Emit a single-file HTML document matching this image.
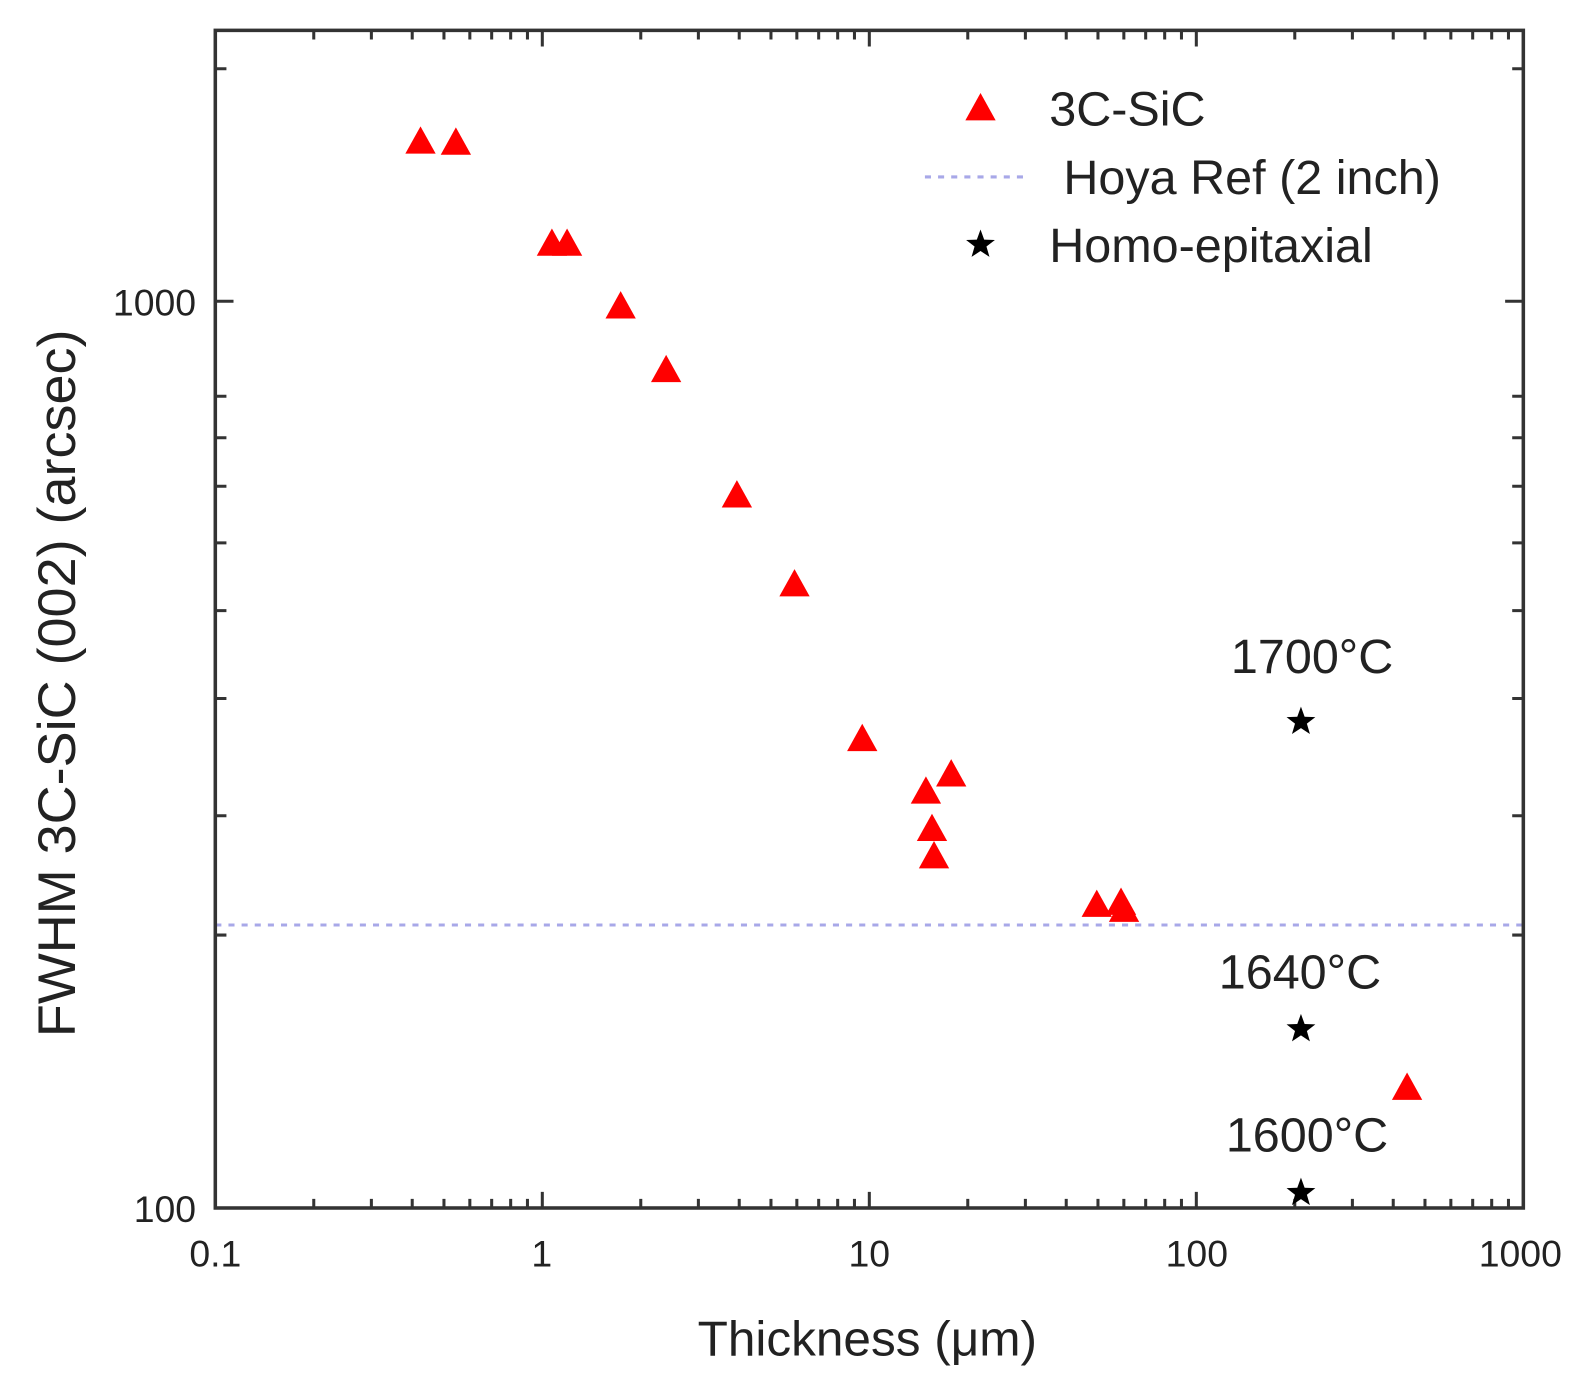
<!DOCTYPE html>
<html><head><meta charset="utf-8"><style>
html,body{margin:0;padding:0;background:#fff;}
svg{display:block;}
text{font-family:"Liberation Sans",Arial,sans-serif;fill:#222;}
</style></head><body>
<svg width="1586" height="1392" viewBox="0 0 1569 1377" xmlns="http://www.w3.org/2000/svg">
<defs>
<polygon id="tri" points="0,-15 15,12 -15,12" fill="#ff0000"/>
<polygon id="star" transform="scale(1.25)" points="0,-12 2.9,-4 11.4,-3.7 4.7,1.5 7.1,9.7 0,5 -7.1,9.7 -4.7,1.5 -11.4,-3.7 -2.9,-4" fill="#000"/>
</defs>
<line x1="213" y1="915" x2="1507" y2="915" stroke="#a8a8e8" stroke-width="3" stroke-dasharray="6,7"/>
<g stroke="#333" stroke-width="3">
<path d="M310.4,1195v-9M367.4,1195v-9M407.8,1195v-9M439.2,1195v-9M464.8,1195v-9M486.4,1195v-9M505.2,1195v-9M521.8,1195v-9M536.5,1195v-16
M633.9,1195v-9M690.9,1195v-9M731.3,1195v-9M762.7,1195v-9M788.3,1195v-9M809.9,1195v-9M828.7,1195v-9M845.3,1195v-9M860,1195v-16
M957.4,1195v-9M1014.4,1195v-9M1054.8,1195v-9M1086.2,1195v-9M1111.8,1195v-9M1133.4,1195v-9M1152.2,1195v-9M1168.8,1195v-9M1183.5,1195v-16
M1280.9,1195v-9M1337.9,1195v-9M1378.3,1195v-9M1409.7,1195v-9M1435.3,1195v-9M1456.9,1195v-9M1475.7,1195v-9M1492.3,1195v-9
M310.4,30v9M367.4,30v9M407.8,30v9M439.2,30v9M464.8,30v9M486.4,30v9M505.2,30v9M521.8,30v9M536.5,30v16
M633.9,30v9M690.9,30v9M731.3,30v9M762.7,30v9M788.3,30v9M809.9,30v9M828.7,30v9M845.3,30v9M860,30v16
M957.4,30v9M1014.4,30v9M1054.8,30v9M1086.2,30v9M1111.8,30v9M1133.4,30v9M1152.2,30v9M1168.8,30v9M1183.5,30v16
M1280.9,30v9M1337.9,30v9M1378.3,30v9M1409.7,30v9M1435.3,30v9M1456.9,30v9M1475.7,30v9M1492.3,30v9"/>
<path d="M213,925h11M213,807h11M213,691h11M213,604h11M213,537h11M213,481h11M213,433h11M213,392h11M213,298h18M213,68h11
M1507,925h-11M1507,807h-11M1507,691h-11M1507,604h-11M1507,537h-11M1507,481h-11M1507,433h-11M1507,392h-11M1507,298h-18M1507,68h-11"/>
</g>
<rect x="213" y="30" width="1294" height="1165" fill="none" stroke="#333" stroke-width="3.5"/>
<g font-size="37" text-anchor="middle">
<text x="213" y="1253">0.1</text>
<text x="536" y="1253">1</text>
<text x="860" y="1253">10</text>
<text x="1184" y="1253">100</text>
<text x="1504" y="1253">1000</text>
<text x="194" y="1209" text-anchor="end">100</text>
<text x="194" y="312" text-anchor="end">1000</text>
</g>
<text x="858" y="1341" font-size="49" text-anchor="middle">Thickness (μm)</text>
<text transform="translate(74,676) rotate(-90)" font-size="52" text-anchor="middle" textLength="700" lengthAdjust="spacingAndGlyphs">FWHM 3C-SiC (002) (arcsec)</text>
<g>
<use href="#tri" x="416" y="140"/><use href="#tri" x="451" y="141"/>
<use href="#tri" x="546" y="241"/><use href="#tri" x="561" y="241"/>
<use href="#tri" x="614" y="303"/><use href="#tri" x="659" y="366"/>
<use href="#tri" x="729" y="490"/><use href="#tri" x="786" y="578"/>
<use href="#tri" x="853" y="731"/><use href="#tri" x="916" y="783"/>
<use href="#tri" x="941" y="766"/><use href="#tri" x="922" y="820"/>
<use href="#tri" x="924" y="847"/><use href="#tri" x="1085" y="895"/>
<use href="#tri" x="1109" y="893"/><use href="#tri" x="1112" y="900"/>
<use href="#tri" x="1392" y="1076"/>
<use href="#star" x="1287" y="714"/><use href="#star" x="1287" y="1018"/><use href="#star" x="1287" y="1180"/>
</g>
<g font-size="48" text-anchor="middle">
<text x="1298" y="666">1700°C</text>
<text x="1286" y="978">1640°C</text>
<text x="1293" y="1139">1600°C</text>
</g>
<use href="#tri" x="970" y="107"/>
<line x1="915" y1="175" x2="1018" y2="175" stroke="#a8a8e8" stroke-width="3" stroke-dasharray="6,7"/>
<use href="#star" x="970" y="242"/>
<g font-size="48">
<text x="1038" y="124">3C-SiC</text>
<text x="1052" y="192">Hoya Ref (2 inch)</text>
<text x="1038" y="259">Homo-epitaxial</text>
</g>
</svg>
</body></html>
